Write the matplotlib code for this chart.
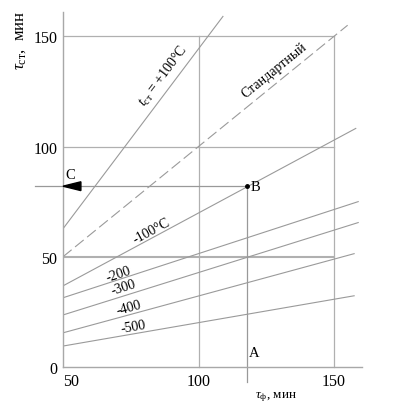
import numpy as np
import matplotlib
matplotlib.use("Agg")
import matplotlib.pyplot as plt
from matplotlib.patches import Polygon

plt.rcParams['font.family'] = ['Liberation Serif', 'DejaVu Serif']
plt.rcParams['mathtext.fontset'] = 'custom'
plt.rcParams['mathtext.rm'] = 'Liberation Serif'
plt.rcParams['mathtext.it'] = 'Liberation Serif:italic'

# ---- data ----
plus100_x = [50, 109]
plus100_y = [62.7, 159]
standard_x = [50, 155]
standard_y = [50, 155]
m100_x = [50, 158]
m100_y = [36.8, 108.2]
m200_x = [50, 158.9]
m200_y = [31.4, 75.0]
m300_x = [50, 158.9]
m300_y = [23.6, 65.5]
m400_x = [50, 157.4]
m400_y = [15.5, 51.4]
m500_x = [50, 157.4]
m500_y = [9.5, 32.3]

point_B = (118, 82)
point_A_y = -6.8
point_C_x = 39.7

xticks = [50, 100, 150]
yticks = [0, 50, 100, 150]
grid_y = [50, 100, 150]
grid_x = [100, 150]

labels = [
    (r'$t_{\mathrm{ст}}$ = +100°C', 87.0, 132.5, plus100_x, plus100_y, 10),
    ('Стандартный', 127.9, 134.8, standard_x, standard_y, 10),
    ('-100°C', 82.5, 62.0, m100_x, m100_y, 10),
    ('-200', 70.3, 42.3, m200_x, m200_y, 10),
    ('-300', 72.5, 36.4, m300_x, m300_y, 10),
    ('-400', 74.4, 27.3, m400_x, m400_y, 10),
    ('-500', 75.8, 18.2, m500_x, m500_y, 10),
]

fig = plt.figure(figsize=(3.97, 4.14), dpi=100)
ax = fig.add_axes([63/397, 46/414, 299/397, 355/414])
ax.set_xlim(50, 160.3)
ax.set_ylim(0, 161)

gc = '#b0b0b0'
lc = '#9a9a9a'
for gy in grid_y:
    ax.plot([50, 150], [gy, gy], color=gc, lw=0.9 if gy != 50 else 1.5, zorder=1)
for gx in grid_x:
    ax.plot([gx, gx], [0, 150], color=gc, lw=0.9, zorder=1, clip_on=False)

ax.plot(plus100_x, plus100_y, color=lc, lw=0.8)
ax.plot(standard_x, standard_y, color=lc, lw=0.8, dashes=(10, 4))
for xs, ys in [(m100_x, m100_y), (m200_x, m200_y), (m300_x, m300_y),
               (m400_x, m400_y), (m500_x, m500_y)]:
    ax.plot(xs, ys, color=lc, lw=0.8)

# construction lines
bx, by = point_B
ax.plot([bx, bx], [point_A_y, by], color='#999999', lw=0.9, clip_on=False)
ax.plot([point_C_x, bx], [by, by], color='#999999', lw=0.9, clip_on=False)
ax.plot([bx], [by], 'o', color='black', ms=2.5)
tri = Polygon([[50, by], [56.6, by + 2.0], [56.6, by - 2.0]], closed=True,
              color='black', clip_on=False, zorder=5)
ax.add_patch(tri)
ax.text(bx + 1.2, by, 'B', fontsize=10.5, va='center', ha='left')
ax.text(bx + 0.5, 3.5, 'A', fontsize=10.5, va='bottom', ha='left')
ax.text(52.5, by + 2.5, 'C', fontsize=10.5, va='bottom', ha='center')

fig.canvas.draw()
for txt, tx, ty, xs, ys, fs in labels:
    p0 = ax.transData.transform((xs[0], ys[0]))
    p1 = ax.transData.transform((xs[1], ys[1]))
    ang = np.degrees(np.arctan2(p1[1] - p0[1], p1[0] - p0[0]))
    ax.text(tx, ty, txt, fontsize=fs, rotation=ang, rotation_mode='anchor',
            ha='center', va='center')

for s in ['top', 'right']:
    ax.spines[s].set_visible(False)
for s in ['left', 'bottom']:
    ax.spines[s].set_color('#a8a8a8')
    ax.spines[s].set_linewidth(1.0)
ax.set_xticks(xticks)
ax.set_yticks(yticks)
ax.set_xticklabels([str(v) for v in xticks], fontsize=11.5)
ax.set_yticklabels([str(v) for v in yticks], fontsize=11.5)
ax.tick_params(length=0, pad=4)
ax.get_xticklabels()[0].set_horizontalalignment('left')

fig.text(20/397, 1 - 40/414, r'$\tau_{\mathrm{ст}}$,  мин', rotation=90,
         fontsize=12, ha='center', va='center')
fig.text(276/397, 1 - 397/414, r'$\tau_{\mathrm{ф}}$, мин', fontsize=9.5,
         ha='center', va='center')

fig.savefig('out.png', dpi=100)
